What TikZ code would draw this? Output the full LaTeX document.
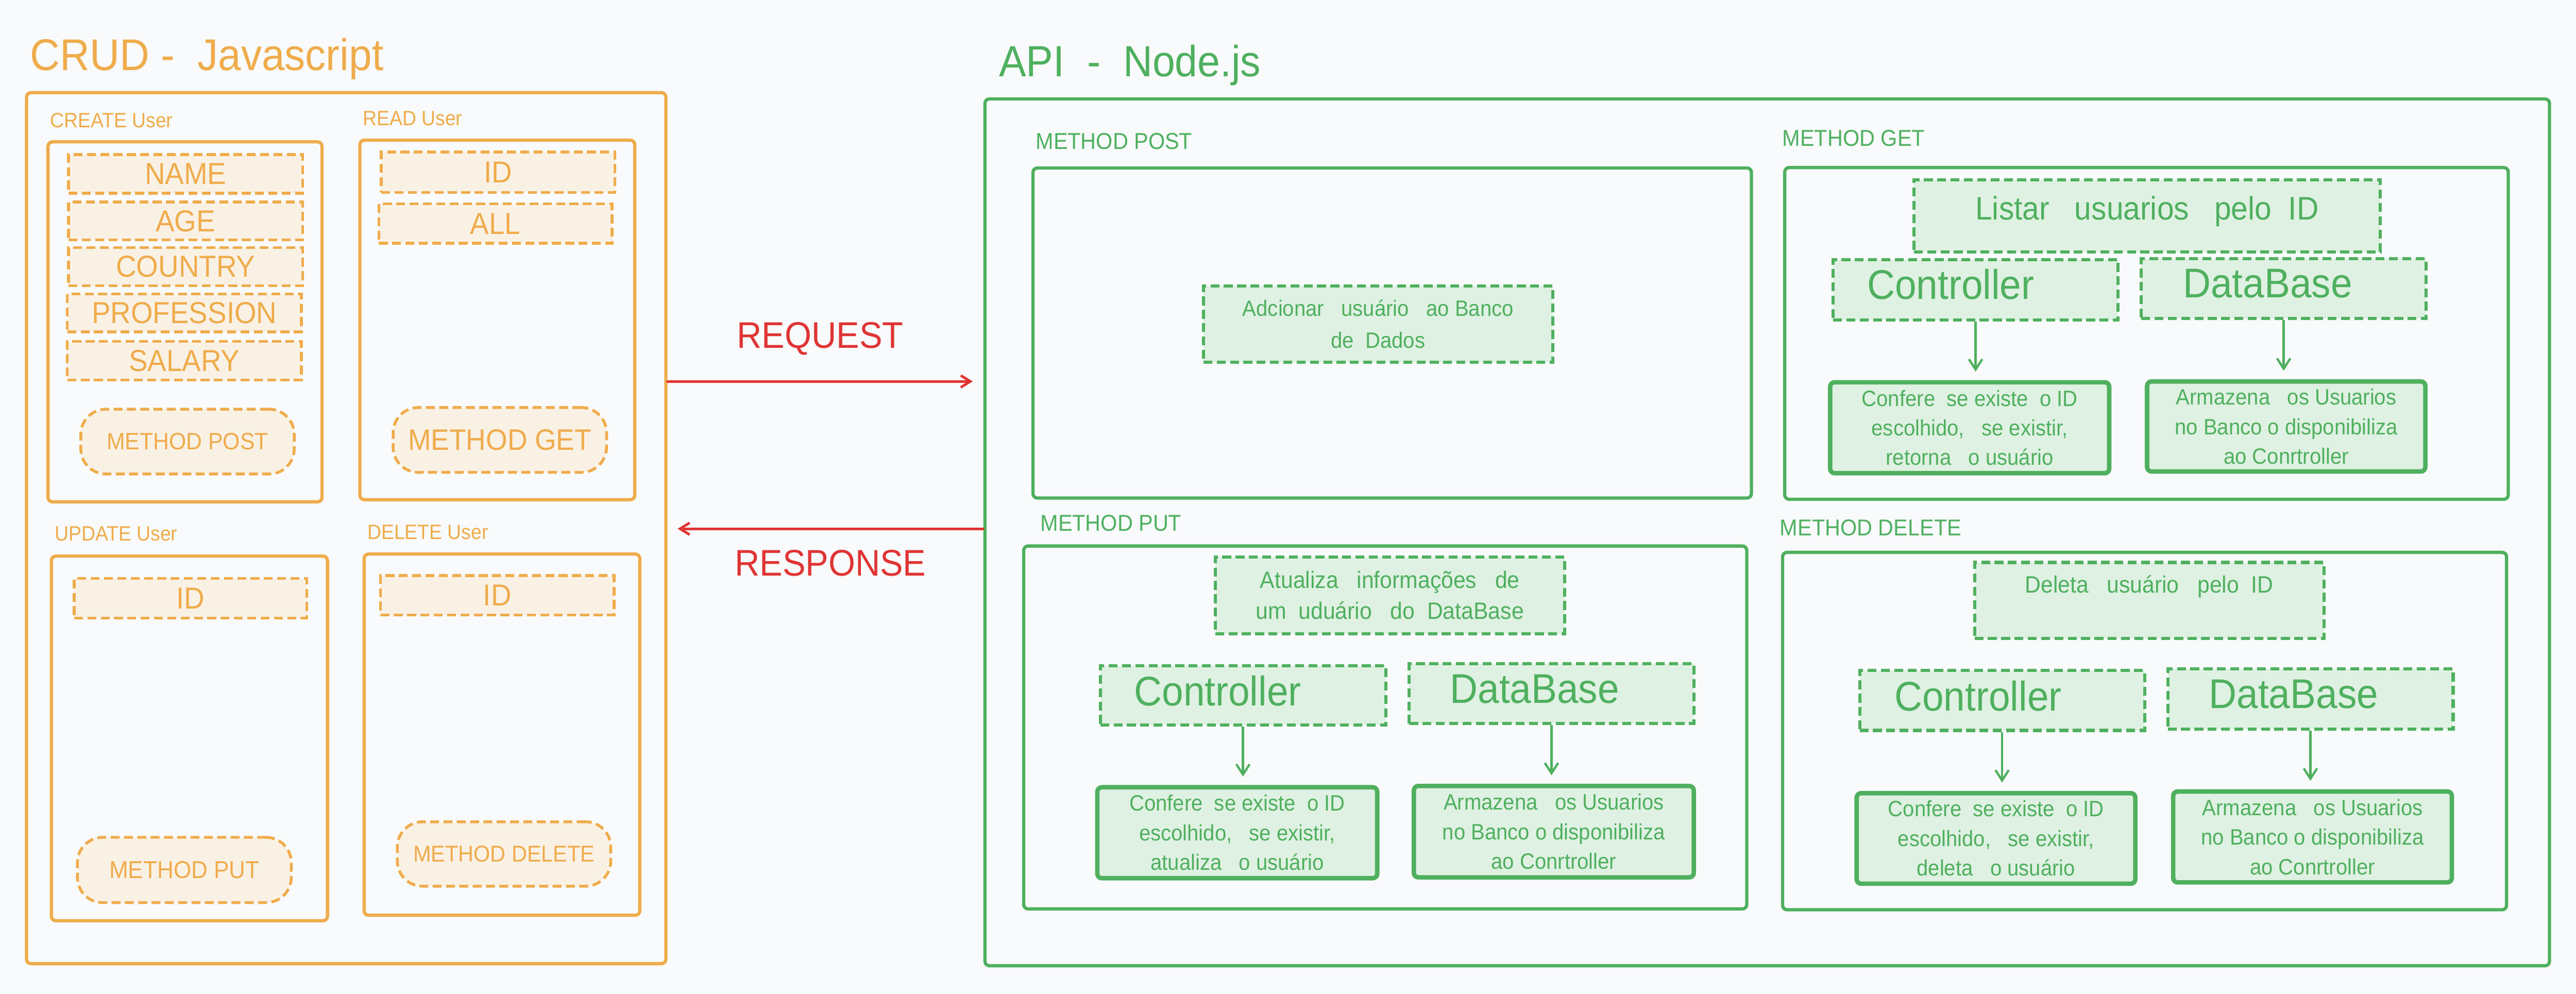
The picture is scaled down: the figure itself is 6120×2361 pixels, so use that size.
\documentclass[tikz,border=0pt]{standalone}
\usepackage{fontspec}
\setmainfont{Liberation Sans}[FakeStretch=0.93]
\usetikzlibrary{shapes,arrows.meta,positioning,fit}

\definecolor{crudorange}{HTML}{EFAC4B}
\definecolor{crudfill}{HTML}{FAF1E5}
\definecolor{apigreen}{HTML}{4FB05F}
\definecolor{apifill}{HTML}{DFF1E2}
\definecolor{msgred}{HTML}{E03434}
\definecolor{paper}{HTML}{F8FAFC}
\newcommand{\fsize}[2]{\fontsize{#1}{#2}\selectfont}

\begin{document}
\begin{tikzpicture}[x=0.01cm,y=-0.01cm]

\tikzstyle{group} = [draw=crudorange, line width=2.2pt, rounded corners=3pt, inner sep=0pt]
\tikzstyle{field} = [draw=crudorange, fill=crudfill, line width=1.9pt,
    dash pattern=on 6pt off 3pt, inner sep=0pt]
\tikzstyle{pill} = [field, rounded corners=17pt]
\tikzstyle{otext} = [text=crudorange, inner sep=0pt, font=\fsize{20.5}{24}]
\tikzstyle{olabel} = [text=crudorange, inner sep=0pt, font=\fsize{14}{16}]
\tikzstyle{stage} = [draw=apigreen, line width=2.2pt, rounded corners=3pt, inner sep=0pt]
\tikzstyle{task} = [draw=apigreen, fill=apifill, line width=2.1pt,
    dash pattern=on 6pt off 3pt, inner sep=0pt]
\tikzstyle{result} = [draw=apigreen, fill=apifill, line width=3pt, rounded corners=3pt, inner sep=0pt]
\tikzstyle{gtext} = [text=apigreen, inner sep=0pt, align=center]
\tikzstyle{rtext} = [gtext, font=\fsize{15}{20}]
\tikzstyle{big} = [gtext, font=\fsize{28}{32}]
\tikzstyle{glabel} = [text=apigreen, inner sep=0pt, font=\fsize{15.5}{18}]
\tikzstyle{flow} = [draw=apigreen, line width=1.5pt, -{Straight Barb[length=7pt,width=9pt]}, shorten >=0.2cm]
\tikzstyle{msg} = [draw=msgred, line width=1.7pt, line cap=round, -{Straight Barb[length=6.5pt,width=8pt]}]

\fill [paper] (0,0) rectangle (6120,2361);

% CRUD side
\node [anchor=base west, inner sep=0pt, text=crudorange, font=\fsize{30}{36}] (crudtitle) at (71,167) {CRUD -\ \ Javascript};
\node [group, fit={(63,220) (1582,2289)}] (crud) {};

\node [group, fit={(114,337) (765,1192)}] (create) {};
\node [olabel, above right=0.29cm and 0.08cm of create.north west] (createlabel) {CREATE User};
\node [field, fit={(163,367) (719,459)}, label={[otext]center:NAME}] (name) {};
\node [field, fit={(163,480) (719,570)}, label={[otext]center:AGE}] (age) {};
\node [field, fit={(163,588) (719,679)}, label={[otext]center:COUNTRY}] (country) {};
\node [field, fit={(160,698) (716,788)}, label={[otext]center:PROFESSION}] (profession) {};
\node [field, fit={(160,811) (716,903)}, label={[otext]center:SALARY}] (salary) {};
\node [pill, fit={(192,972) (699,1126)}, label={[otext, font=\fsize{16}{19}]center:METHOD POST}] (createpost) {};

\node [group, fit={(855,333) (1508,1187)}] (read) {};
\node [olabel, above right=0.30cm and 0.10cm of read.north west] (readlabel) {READ User};
\node [field, fit={(906,361) (1461,457)}, label={[otext]center:ID}] (readid) {};
\node [field, fit={(900,484) (1454,578)}, label={[otext]center:ALL}] (readall) {};
\node [pill, fit={(934,968) (1441,1122)}, label={[otext, font=\fsize{20}{24}]center:METHOD GET}] (readget) {};

\node [group, fit={(122,1321) (778,2187)}] (update) {};
\node [olabel, above right=0.31cm and 0.11cm of update.north west] (updatelabel) {UPDATE User};
\node [field, fit={(176,1374) (729,1468)}, label={[otext]center:ID}] (updateid) {};
\node [pill, fit={(184,1989) (692,2144)}, label={[otext, font=\fsize{16.5}{19}]center:METHOD PUT}] (updateput) {};

\node [group, fit={(865,1316) (1520,2174)}] (delete) {};
\node [olabel, above right=0.30cm and 0.11cm of delete.north west] (deletelabel) {DELETE User};
\node [field, fit={(904,1367) (1459,1461)}, label={[otext]center:ID}] (deleteid) {};
\node [pill, fit={(944,1952) (1451,2105)}, label={[otext, font=\fsize{15.5}{18}]center:METHOD DELETE}] (deletedel) {};

% API side
\node [anchor=base west, inner sep=0pt, text=apigreen, font=\fsize{29.5}{36}] (apititle) at (2373,182) {API\ \ -\ \ Node.js};
\node [stage, fit={(2340,235) (6057,2294)}] (api) {};

\node [stage, fit={(2454,399) (4161,1183)}] (post) {};
\node [glabel, above right=0.40cm and 0.10cm of post.north west] (postlabel) {METHOD POST};
\node [task, fit={(2859,679) (3689,861)},
    label={[gtext, font=\fsize{15}{21.5}]center:Adcionar\ \ \ usuário\ \ \ ao Banco\\de\ \ Dados}] (postadd) {};

\node [stage, fit={(4240,398) (5959,1186)}] (get) {};
\node [glabel, above right=0.46cm and -0.02cm of get.north west] (getlabel) {METHOD GET};
\node [task, fit={(4547,427) (5655,598)},
    label={[gtext, font=\fsize{22}{26}, yshift=0.1cm]center:Listar\ \ \ usuarios\ \ \ pelo\ \ ID}] (getlist) {};
\node [task, fit={(4355,617) (5032,760)}, label={[big, xshift=-0.59cm, yshift=0.13cm]center:Controller}] (getctrl) {};
\node [task, fit={(5087,615) (5764,757)}, label={[big, xshift=-0.38cm, yshift=0.13cm]center:DataBase}] (getdb) {};
\node [result, fit={(4348,908) (5011,1124)},
    label={[rtext]center:Confere\ \ se existe\ \ o ID\\escolhido,\ \ \ se existir,\\retorna\ \ \ o usuário}] (getcheck) {};
\node [result, fit={(5101,906) (5762,1120)},
    label={[rtext]center:Armazena\ \ \ os Usuarios\\no Banco o disponibiliza\\ao Conrtroller}] (getstore) {};
\path [flow] (getctrl.south) -- (getctrl.south |- getcheck.north);
\path [flow] (getdb.south) -- (getdb.south |- getstore.north);

\node [stage, fit={(2432,1297) (4150,2159)}] (put) {};
\node [glabel, above right=0.30cm and 0.43cm of put.north west] (putlabel) {METHOD PUT};
\node [task, fit={(2887,1323) (3717,1505)},
    label={[gtext, font=\fsize{16}{21}]center:Atualiza\ \ \ informações\ \ \ de\\um\ \ uduário\ \ \ do\ \ DataBase}] (putupd) {};
\node [task, fit={(2614,1581) (3292,1722)}, label={[big, xshift=-0.6cm, yshift=0.11cm]center:Controller}] (putctrl) {};
\node [task, fit={(3348,1577) (4024,1718)}, label={[big, xshift=-0.4cm, yshift=0.11cm]center:DataBase}] (putdb) {};
\node [result, fit={(2607,1870) (3272,2086)},
    label={[rtext]center:Confere\ \ se existe\ \ o ID\\escolhido,\ \ \ se existir,\\atualiza\ \ \ o usuário}] (putcheck) {};
\node [result, fit={(3359,1867) (4024,2084)},
    label={[rtext]center:Armazena\ \ \ os Usuarios\\no Banco o disponibiliza\\ao Conrtroller}] (putstore) {};
\path [flow] (putctrl.south) -- (putctrl.south |- putcheck.north);
\path [flow] (putdb.south) -- (putdb.south |- putstore.north);

\node [stage, fit={(4235,1312) (5955,2161)}] (del) {};
\node [glabel, above right=0.34cm and -0.03cm of del.north west] (dellabel) {METHOD DELETE};
\node [task, fit={(4691,1336) (5521,1517)},
    label={[gtext, font=\fsize{16}{19}, anchor=north, yshift=-0.34cm]north:Deleta\ \ \ usuário\ \ \ pelo\ \ ID}] (deltask) {};
\node [task, fit={(4418,1593) (5095,1735)}, label={[big, xshift=-0.57cm, yshift=0.11cm]center:Controller}] (delctrl) {};
\node [task, fit={(5150,1589) (5828,1732)}, label={[big, xshift=-0.4cm, yshift=0.11cm]center:DataBase}] (deldb) {};
\node [result, fit={(4411,1884) (5073,2099)},
    label={[rtext]center:Confere\ \ se existe\ \ o ID\\escolhido,\ \ \ se existir,\\deleta\ \ \ o usuário}] (delcheck) {};
\node [result, fit={(5163,1880) (5825,2096)},
    label={[rtext]center:Armazena\ \ \ os Usuarios\\no Banco o disponibiliza\\ao Conrtroller}] (delstore) {};
\path [flow] (delctrl.south) -- (delctrl.south |- delcheck.north);
\path [flow] (deldb.south) -- (deldb.south |- delstore.north);

% request / response
\coordinate (reqrow) at (0,906);
\coordinate (resrow) at (0,1256);
\path [msg] (crud.east |- reqrow) --
node [midway, above=0.6cm, inner sep=0pt, text=msgred, font=\fsize{25}{30}] {REQUEST}
([xshift=-0.25cm]api.west |- reqrow);
\path [msg] (api.west |- resrow) --
node [midway, below=0.47cm, inner sep=0pt, text=msgred, font=\fsize{25}{30}] {RESPONSE}
([xshift=0.24cm]crud.east |- resrow);
\end{tikzpicture}
\end{document}
